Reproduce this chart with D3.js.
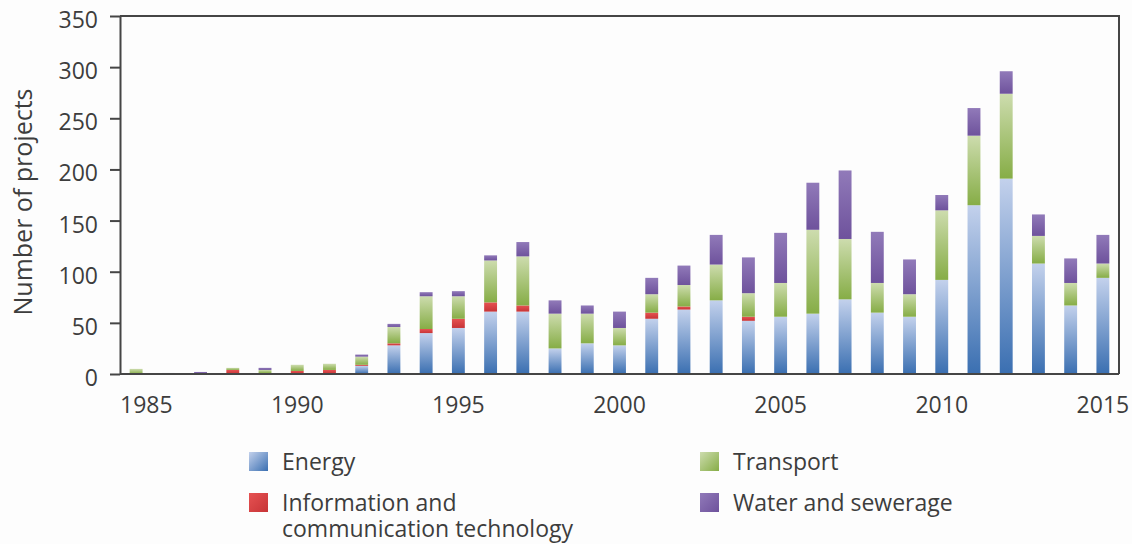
<!DOCTYPE html>
<html>
<head>
<meta charset="utf-8">
<script src="https://cdn.jsdelivr.net/npm/d3@7"></script>
<style>
  html, body { margin: 0; padding: 0; background: #fdfdfd; }
  svg { display: block; }
  text { font-family: "Open Sans", "Noto Sans", sans-serif; fill: #3d3d3d; }
</style>
</head>
<body>
<svg id="chart" width="1132" height="544"></svg>
<script>
const years = [1985,1986,1987,1988,1989,1990,1991,1992,1993,1994,1995,1996,1997,1998,1999,2000,
               2001,2002,2003,2004,2005,2006,2007,2008,2009,2010,2011,2012,2013,2014,2015];
const energy    = [0,0,1,0,0,0,0,8,28,40,45,61,61,25,30,28,54,63,72,52,56,59,73,60,56,92,165,191,108,67,94];
const ict       = [0,0,0,4,1,3,4,1,2,4,9,9,6,0,0,0,6,3,0,4,0,0,0,0,0,0,0,0,0,0,0];
const transport = [5,0,0,2,3,6,6,8,16,32,22,41,48,34,29,17,18,21,35,23,33,82,59,29,22,68,68,83,27,22,14];
const water     = [0,1,1,0,2,0,0,2,3,4,5,5,14,13,8,16,16,19,29,35,49,46,67,50,34,15,27,22,21,24,28];

const seriesKeys   = ["energy", "ict", "transport", "water"];
const seriesNames  = ["Energy", "Information and communication technology", "Transport", "Water and sewerage"];
const yTicks = [0, 50, 100, 150, 200, 250, 300, 350];
const xTickYears = [1985, 1990, 1995, 2000, 2005, 2010, 2015];
const yTitle = "Number of projects";

const gradients = {
  energy:    ["#c3d1ec", "#3a6fb1"],
  ict:       ["#e65252", "#c73437"],
  transport: ["#cddcae", "#86ad46"],
  water:     ["#917ab9", "#6e529c"]
};

const rows = years.map((yr, i) => ({
  year: yr, energy: energy[i], ict: ict[i], transport: transport[i], water: water[i]
}));

const svg = d3.select("#chart");
const mLeft = 120, mRight = 1119, mTop = 16, mBottom = 374;

const defs = svg.append("defs");
seriesKeys.forEach(k => {
  const g = defs.append("linearGradient").attr("id", "g-" + k)
    .attr("x1", 0).attr("y1", 0).attr("x2", 0).attr("y2", 1);
  g.append("stop").attr("offset", "0%").attr("stop-color", gradients[k][0]);
  g.append("stop").attr("offset", "100%").attr("stop-color", gradients[k][1]);
  const gl = defs.append("linearGradient").attr("id", "gl-" + k)
    .attr("x1", 0).attr("y1", 0).attr("x2", 1).attr("y2", 1);
  gl.append("stop").attr("offset", "0%").attr("stop-color", gradients[k][0]);
  gl.append("stop").attr("offset", "100%").attr("stop-color", gradients[k][1]);
});

const x = d3.scaleBand().domain(years).range([mLeft, mRight]).paddingInner(0.6).paddingOuter(0.3);
const y = d3.scaleLinear().domain([0, 350]).range([mBottom, mTop]);

const stacked = d3.stack().keys(seriesKeys)(rows);

svg.append("g").selectAll("g").data(stacked).join("g")
  .attr("fill", d => "url(#g-" + d.key + ")")
  .selectAll("rect").data(d => d).join("rect")
  .attr("x", d => x(d.data.year))
  .attr("width", x.bandwidth())
  .attr("y", d => y(d[1]))
  .attr("height", d => Math.max(0, y(d[0]) - y(d[1])));

// frame (top and right)
svg.append("path")
  .attr("d", `M${mLeft},${mTop}H${mRight}V${mBottom}`)
  .attr("fill", "none").attr("stroke", "#454545").attr("stroke-width", 2);

// y axis
const yAxis = svg.append("g").attr("transform", `translate(${mLeft},0)`)
  .call(d3.axisLeft(y).tickValues(yTicks).tickSize(10).tickPadding(12).tickSizeOuter(0));
yAxis.select(".domain").attr("stroke", "#454545").attr("stroke-width", 2);
yAxis.selectAll(".tick line").attr("stroke", "#454545").attr("stroke-width", 2);
yAxis.selectAll(".tick text").attr("font-size", 23).attr("dy", "0.5em")
  .style("font-family", "'Open Sans', sans-serif").attr("fill", "#3d3d3d");

// x axis
const xAxis = svg.append("g").attr("transform", `translate(0,${mBottom})`)
  .call(d3.axisBottom(x).tickValues(xTickYears).tickSize(0).tickPadding(23).tickSizeOuter(0));
xAxis.select(".domain").attr("stroke", "#454545").attr("stroke-width", 2)
  .attr("d", `M${mLeft},0H${mRight}`);
xAxis.selectAll(".tick text").attr("font-size", 23)
  .style("font-family", "'Open Sans', sans-serif").attr("fill", "#3d3d3d");
xAxis.selectAll(".tick").filter(d => d === years[0]).select("text")
  .attr("text-anchor", "start").attr("x", mLeft - (x(years[0]) + x.bandwidth() / 2));

// y title
svg.append("text")
  .attr("transform", `translate(32,202) rotate(-90)`)
  .attr("text-anchor", "middle").attr("font-size", 25)
  .text(yTitle);

// legend
const legendItems = [
  { key: "energy", lines: ["Energy"], x: 249, y: 452 },
  { key: "transport", lines: ["Transport"], x: 700, y: 452 },
  { key: "ict", lines: ["Information and", "communication technology"], x: 249, y: 493 },
  { key: "water", lines: ["Water and sewerage"], x: 700, y: 493 }
];
const lg = svg.append("g").selectAll("g").data(legendItems).join("g")
  .attr("transform", d => `translate(${d.x},${d.y})`);
lg.append("rect").attr("width", 19).attr("height", 19)
  .attr("fill", d => "url(#gl-" + d.key + ")");
lg.each(function(d) {
  const g = d3.select(this);
  d.lines.forEach((ln, i) => {
    g.append("text").attr("x", 33).attr("y", 18 + i * 26).attr("font-size", 23).text(ln);
  });
});
</script>
</body>
</html>
